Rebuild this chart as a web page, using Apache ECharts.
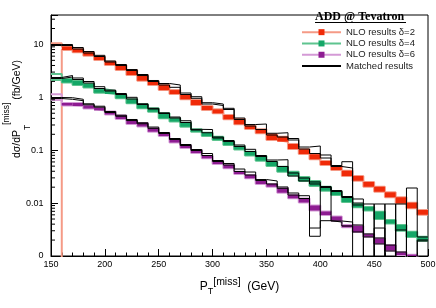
<!DOCTYPE html>
<html>
<head>
<meta charset="utf-8">
<script src="https://cdn.jsdelivr.net/npm/echarts@6/dist/echarts.min.js"></script>
<style>
html,body{margin:0;padding:0;background:#fff;}
#c{width:436px;height:308px;}
</style>
</head>
<body>
<div id="c"></div>
<script>
// ---------- data ----------
const OFF = 0.0005;   // empty bin: content zero, below the axis floor
const binStarts = [150,160,170,180,190,200,210,220,230,240,250,260,270,280,290,300,310,320,330,340,350,360,370,380,390,400,410,420,430,440,450,460,470,480,490];
const BIN_WIDTH = 10;
const FIRST_FILLED_BIN = 1;

// NLO bands (fb/GeV): upper and lower edge per bin
const redHigh = [10.5, 9.13, 8.19, 7.09, 5.86, 4.71, 4.03, 3.28, 2.64, 1.97, 1.71, 1.37, 1.105, 0.889, 0.685, 0.593, 0.463, 0.389, 0.290, 0.248, 0.200, 0.180, 0.131, 0.104, 0.0837, 0.0625, 0.0503, 0.0410, 0.0325, 0.0251, 0.0204, 0.0160, 0.0129, 0.0102, 0.00741];
const redLow = [OFF, 7.84, 7.09, 6.12, 5.07, 4.08, 3.28, 2.64, 2.06, 1.71, 1.37, 1.154, 0.917, 0.715, 0.575, 0.498, 0.384, 0.309, 0.252, 0.209, 0.156, 0.145, 0.1054, 0.0848, 0.0673, 0.0525, 0.0422, 0.0325, 0.0265, 0.0204, 0.0164, 0.0129, 0.00991, 0.00798, 0.00603];
const greenHigh = [2.76, 2.22, 2.03, 1.784, 1.417, 1.316, 1.105, 0.917, 0.737, 0.620, 0.498, 0.398, 0.331, 0.248, 0.214, 0.180, 0.146, 0.1175, 0.0937, 0.0777, 0.0606, 0.0488, 0.0392, 0.0311, 0.0262, 0.0204, 0.01657, 0.0129, 0.00962, 0.00844, 0.00688, 0.00479, 0.00385, 0.00288, 0.00232];
const greenLow = [2.12, 1.905, 1.71, 1.532, 1.222, 1.154, 0.958, 0.770, 0.620, 0.534, 0.401, 0.349, 0.278, 0.224, 0.1856, 0.156, 0.1254, 0.1031, 0.0794, 0.0633, 0.0503, 0.0392, 0.0333, 0.0262, 0.0211, 0.01716, 0.01423, 0.01049, 0.00833, 0.00725, 0.00501, 0.00411, 0.00301, 0.00229, 0.001946];
const purpleHigh = [1.140, 0.780, 0.780, 0.700, 0.628, 0.539, 0.453, 0.364, 0.327, 0.259, 0.2114, 0.1629, 0.1254, 0.1009, 0.0777, 0.0606, 0.0525, 0.0392, 0.0340, 0.0265, 0.0230, 0.01905, 0.01423, 0.01222, 0.00901, 0.00694, 0.00558, 0.00385, 0.00369, 0.00257, 0.00214, 0.00161, 0.001175, 0.00106, 0.0009];
const purpleLow = [0.889, 0.700, 0.685, 0.614, 0.563, 0.473, 0.389, 0.313, 0.281, 0.224, 0.1856, 0.1398, 0.1101, 0.0885, 0.0703, 0.0549, 0.0455, 0.0355, 0.0294, 0.0230, 0.0204, 0.01573, 0.01232, 0.01027, 0.00725, 0.00596, 0.00465, 0.00349, 0.00284, 0.00232, 0.00172, 0.00127, 0.001044, 0.0009, 0.0008];

// Matched results: upper and lower histogram per delta
const redMatchedUp = [9.96, 9.96, 8.74, 7.34, 6.22, 4.86, 4.17, 3.35, 2.70, 2.08, 1.824, 1.71, 1.206, 1.027, 0.791, 0.747, 0.620, 0.406, 0.306, 0.313, 0.209, 0.214, 0.1664, 0.1149, 0.1201, 0.0812, 0.0514, 0.0606, 0.01196, 0.00962, OFF, 0.00962, OFF, 0.01930, 0.00229];
const redMatchedLow = [9.53, 9.53, 8.19, 6.88, 5.91, 4.65, 3.99, 3.21, 2.58, 1.99, 1.71, 1.546, 1.130, 0.958, 0.747, 0.700, 0.588, 0.381, 0.287, 0.246, 0.194, 0.1777, 0.156, 0.1054, 0.0866, 0.0712, 0.0492, 0.0461, OFF, OFF, OFF, OFF, OFF, OFF, OFF];
const greenMatchedUp = [2.37, 2.58, 2.32, 1.99, 1.587, 1.37, 1.180, 1.000, 0.754, 0.620, 0.509, 0.424, 0.361, 0.248, 0.246, 0.1777, 0.1526, 0.1254, 0.1040, 0.0794, 0.0653, 0.0661, 0.0371, 0.0298, 0.0251, 0.0206, 0.01731, 0.01333, 0.01004, OFF, 0.00962, OFF, 0.00962, OFF, 0.00201];
const greenMatchedLow = [2.27, 2.42, 2.17, 1.864, 1.467, 1.316, 1.130, 0.929, 0.731, 0.601, 0.494, 0.406, 0.334, 0.241, 0.214, 0.1701, 0.146, 0.1175, 0.0945, 0.0760, 0.0612, 0.0492, 0.0325, 0.0262, 0.0230, 0.0197, 0.01657, 0.01276, 0.00921, OFF, 0.00338, OFF, 0.00310, OFF, 0.00192];
const purpleMatchedUp = [0.992, 0.983, 0.917, 0.754, 0.679, 0.539, 0.459, 0.381, 0.330, 0.274, 0.216, 0.1664, 0.1282, 0.1031, 0.0866, 0.0639, 0.0561, 0.0441, 0.0387, 0.0279, 0.0262, 0.0202, 0.01552, 0.01380, 0.00338, 0.01990, 0.00459, 0.00439, 0.00385, 0.00261, 0.00219, 0.00161, 0.001190, OFF, OFF];
const purpleMatchedLow = [0.949, 0.917, 0.863, 0.722, 0.650, 0.516, 0.439, 0.364, 0.316, 0.259, 0.207, 0.1594, 0.1227, 0.0987, 0.0794, 0.0612, 0.0525, 0.0396, 0.0340, 0.0268, 0.0230, 0.01905, 0.01423, 0.01222, 0.00236, 0.00465, 0.00439, 0.00369, 0.00284, 0.00229, 0.00169, 0.001243, OFF, OFF, OFF];

// axes
const xMin = 150, xMax = 500, xInterval = 50;
const yMin = 0.001, yMax = 36;
const yTickValues = [0.001, 0.01, 0.1, 1, 10];
const yTickLabels = ['0', '0.01', '0.1', '1', '10'];
const yMinorTicks = [0.002,0.003,0.004,0.005,0.006,0.007,0.008,0.009,
                     0.02,0.03,0.04,0.05,0.06,0.07,0.08,0.09,
                     0.2,0.3,0.4,0.5,0.6,0.7,0.8,0.9,
                     2,3,4,5,6,7,8,9,20,30];

const legendNames = ['NLO results δ=2', 'NLO results δ=4', 'NLO results δ=6', 'Matched results'];
const titleText = 'ADD @ Tevatron';

// ---------- styling ----------
const SANS = '"Liberation Sans", Arial, Helvetica, sans-serif';
const SERIF = '"Liberation Serif", "Times New Roman", serif';
const C = {
  redLine: '#f59a86', redFill: '#f02a08',
  greenLine: '#5ec48f', greenFill: '#14a767',
  purpleLine: '#d49ad6', purpleFill: '#8e1c92'
};

function steps(vals) {
  const pts = binStarts.map((x, i) => [x, vals[i]]);
  pts.push([binStarts[binStarts.length - 1] + BIN_WIDTH, vals[vals.length - 1]]);
  return pts;
}
function edgeSeries(name, vals, lineColor, markColor) {
  return {
    type: 'line', name: name, data: steps(vals), step: 'end',
    symbol: 'rect', symbolSize: 6, showSymbol: false,
    lineStyle: { color: lineColor, width: 2 },
    itemStyle: { color: markColor },
    z: 2, silent: true, animation: false, clip: true
  };
}
function matchedSeries(vals) {
  return {
    type: 'line', name: legendNames[3], data: steps(vals), step: 'end',
    symbol: 'none', showSymbol: false,
    lineStyle: { color: '#000', width: 1 },
    itemStyle: { color: 'rgba(0,0,0,0)' },
    z: 4, silent: true, animation: false, clip: true
  };
}
function fillSeries(low, high, color) {
  const data = [];
  for (let i = FIRST_FILLED_BIN; i < binStarts.length; i++) data.push([binStarts[i], low[i], high[i]]);
  return {
    type: 'custom', data: data, clip: true, z: 3, silent: true, animation: false,
    encode: { x: 0, y: [1, 2] },
    renderItem: function (params, api) {
      const x0 = api.value(0);
      const p1 = api.coord([x0, api.value(2)]);
      const p2 = api.coord([x0 + BIN_WIDTH, api.value(1)]);
      return { type: 'rect', shape: { x: p1[0], y: p1[1], width: p2[0] - p1[0], height: p2[1] - p1[1] },
               style: { fill: color } };
    }
  };
}
const minorTickSeries = {
  type: 'custom', data: yMinorTicks.map(v => [xMin, v]), z: 5, silent: true, animation: false,
  encode: { x: 0, y: 1 },
  renderItem: function (params, api) {
    const p = api.coord([api.value(0), api.value(1)]);
    return { type: 'line', shape: { x1: p[0], y1: p[1], x2: p[0] + 4, y2: p[1] },
             style: { stroke: '#000', lineWidth: 1 } };
  }
};

const chart = echarts.init(document.getElementById('c'), null, { renderer: 'canvas' });
chart.setOption({
  backgroundColor: '#fff',
  animation: false,
  title: {
    text: titleText, left: 315, top: 11, padding: 0,
    textStyle: { fontFamily: SERIF, fontWeight: 'bold', fontSize: 12, color: '#000' }
  },
  graphic: [
    { type: 'line', shape: { x1: 315, y1: 22.5, x2: 406, y2: 22.5 }, style: { stroke: '#000', lineWidth: 1 }, silent: true }
  ],
  legend: {
    orient: 'vertical', left: 301, top: 26.5, padding: 0,
    itemWidth: 39, itemHeight: 7.5, itemGap: 0,
    selectedMode: false,
    textStyle: { fontFamily: SANS, fontSize: 9.5, color: '#222', lineHeight: 11.3 },
    data: legendNames
  },
  grid: { left: 51, right: 8, top: 15, bottom: 52, show: true, borderColor: '#000', borderWidth: 1,
          backgroundColor: 'transparent', outerBoundsMode: 'none', containLabel: false },
  xAxis: {
    type: 'value', min: xMin, max: xMax, interval: xInterval,
    axisLine: { show: true, lineStyle: { color: '#000', width: 1 } },
    axisTick: { show: true, inside: true, length: 7, lineStyle: { color: '#000', width: 1 } },
    minorTick: { show: true, splitNumber: 5, length: 3.5, lineStyle: { color: '#000', width: 1 } },
    splitLine: { show: false }, minorSplitLine: { show: false },
    axisLabel: { color: '#000', fontFamily: SANS, fontSize: 9, margin: 4 },
    name: '{m|P}{sub|T}{sup|[miss]}{m|  (GeV)}',
    nameLocation: 'middle', nameGap: 20.5, nameMoveOverlap: false,
    nameTextStyle: {
      color: '#000', fontFamily: SANS,
      rich: {
        m: { fontSize: 12, lineHeight: 20, fontFamily: SANS, color: '#000' },
        sub: { fontSize: 9, lineHeight: 9, verticalAlign: 'bottom', fontFamily: SANS, color: '#000' },
        sup: { fontSize: 10.5, lineHeight: 8, verticalAlign: 'top', fontFamily: SANS, color: '#000' }
      }
    }
  },
  yAxis: {
    type: 'log', logBase: 10, min: yMin, max: yMax,
    axisLine: { show: true, lineStyle: { color: '#000', width: 1 } },
    axisTick: { show: true, inside: true, length: 7, lineStyle: { color: '#000', width: 1 } },
    splitLine: { show: false },
    axisLabel: {
      color: '#000', fontFamily: SANS, fontSize: 9, margin: 7.5, showMaxLabel: true,
      formatter: function (v) {
        for (let i = 0; i < yTickValues.length; i++) {
          if (Math.abs(Math.log10(v) - Math.log10(yTickValues[i])) < 0.01) return yTickLabels[i];
        }
        return '';
      }
    },
    name: '{m|dσ/dP}{sub|T}{sup|[miss]}{m| (fb/GeV)}',
    nameLocation: 'middle', nameRotate: 90, nameGap: 18.5, nameMoveOverlap: false,
    nameTextStyle: {
      color: '#000', fontFamily: SANS, padding: [0, 0, 0, 53],
      rich: {
        m: { fontSize: 10.5, lineHeight: 30, fontFamily: SANS, color: '#000' },
        sub: { fontSize: 8.5, lineHeight: 18, verticalAlign: 'bottom', fontFamily: SANS, color: '#000' },
        sup: { fontSize: 8.5, lineHeight: 9, verticalAlign: 'top', fontFamily: SANS, color: '#000' }
      }
    }
  },
  series: [
    edgeSeries(legendNames[0], redHigh, C.redLine, C.redFill),
    edgeSeries(legendNames[0], redLow, C.redLine, C.redFill),
    edgeSeries(legendNames[1], greenHigh, C.greenLine, C.greenFill),
    edgeSeries(legendNames[1], greenLow, C.greenLine, C.greenFill),
    edgeSeries(legendNames[2], purpleHigh, C.purpleLine, C.purpleFill),
    edgeSeries(legendNames[2], purpleLow, C.purpleLine, C.purpleFill),
    fillSeries(redLow, redHigh, C.redFill),
    fillSeries(greenLow, greenHigh, C.greenFill),
    fillSeries(purpleLow, purpleHigh, C.purpleFill),
    matchedSeries(redMatchedUp), matchedSeries(redMatchedLow),
    matchedSeries(greenMatchedUp), matchedSeries(greenMatchedLow),
    matchedSeries(purpleMatchedUp), matchedSeries(purpleMatchedLow),
    minorTickSeries
  ]
});
</script>
</body>
</html>
